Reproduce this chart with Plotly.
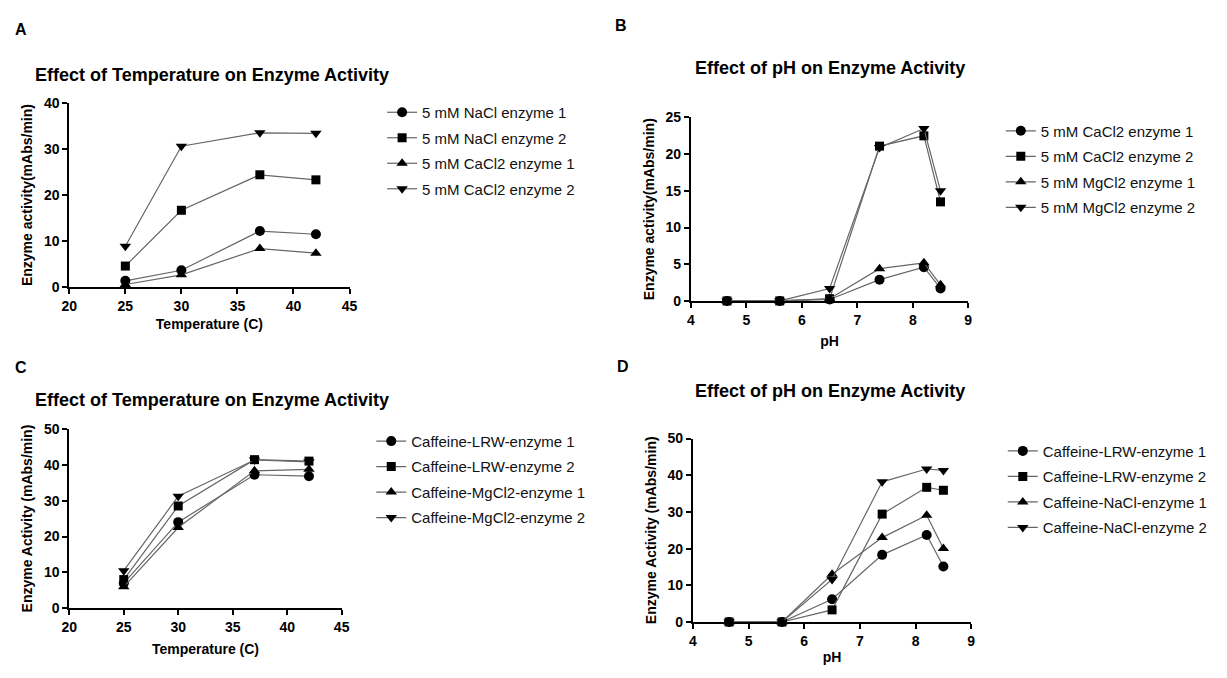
import plotly.graph_objects as go

# ---------------- data ----------------
temp = [25, 30, 37, 42]
ph = [4.65, 5.6, 6.5, 7.4, 8.2, 8.5]

a_names = ["5 mM NaCl enzyme 1", "5 mM NaCl enzyme 2", "5 mM CaCl2 enzyme 1", "5 mM CaCl2 enzyme 2"]
a_nacl_e1 = [1.4, 3.7, 12.2, 11.5]
a_nacl_e2 = [4.6, 16.7, 24.4, 23.3]
a_cacl2_e1 = [0.6, 2.7, 8.4, 7.4]
a_cacl2_e2 = [8.9, 30.6, 33.5, 33.4]

b_names = ["5 mM CaCl2 enzyme 1", "5 mM CaCl2 enzyme 2", "5 mM MgCl2 enzyme 1", "5 mM MgCl2 enzyme 2"]
b_cacl2_e1 = [0, 0, 0.2, 2.9, 4.6, 1.7]
b_cacl2_e2 = [0, 0, 0.3, 21.1, 22.5, 13.5]
b_mgcl2_e1 = [0, 0, 0.3, 4.4, 5.2, 2.2]
b_mgcl2_e2 = [0, 0, 1.7, 20.9, 23.5, 15.0]

c_names = ["Caffeine-LRW-enzyme 1", "Caffeine-LRW-enzyme 2", "Caffeine-MgCl2-enzyme 1", "Caffeine-MgCl2-enzyme 2"]
c_lrw_e1 = [7.0, 24.0, 37.2, 36.8]
c_lrw_e2 = [8.0, 28.5, 41.4, 41.0]
c_mgcl2_e1 = [6.0, 22.5, 38.3, 38.7]
c_mgcl2_e2 = [10.5, 31.2, 41.3, 40.8]

d_names = ["Caffeine-LRW-enzyme 1", "Caffeine-LRW-enzyme 2", "Caffeine-NaCl-enzyme 1", "Caffeine-NaCl-enzyme 2"]
d_lrw_e1 = [0, 0, 6.2, 18.3, 23.7, 15.1]
d_lrw_e2 = [0, 0, 3.3, 29.4, 36.7, 35.9]
d_nacl_e1 = [0, 0, 13.0, 23.0, 29.1, 20.0]
d_nacl_e2 = [0, 0, 11.6, 38.2, 41.7, 41.3]

symbols = ["circle", "square", "triangle-up", "triangle-down"]

# page is 1227x678; the default 8px body margin surrounds the figure
PAGE_MARGIN = 8
W, H = 1227 - 2 * PAGE_MARGIN, 678 - 2 * PAGE_MARGIN
FONT = "Liberation Sans, Arial, sans-serif"

def px_x(p):
    return (p - PAGE_MARGIN) / W

def px_y(p):
    return (H - (p - PAGE_MARGIN)) / H

fig = go.Figure()

panels = [
    dict(x=temp, series=[a_nacl_e1, a_nacl_e2, a_cacl2_e1, a_cacl2_e2], names=a_names,
         xa="x", ya="y", legend="legend"),
    dict(x=ph, series=[b_cacl2_e1, b_cacl2_e2, b_mgcl2_e1, b_mgcl2_e2], names=b_names,
         xa="x2", ya="y2", legend="legend2"),
    dict(x=temp, series=[c_lrw_e1, c_lrw_e2, c_mgcl2_e1, c_mgcl2_e2], names=c_names,
         xa="x3", ya="y3", legend="legend3"),
    dict(x=ph, series=[d_lrw_e1, d_lrw_e2, d_nacl_e1, d_nacl_e2], names=d_names,
         xa="x4", ya="y4", legend="legend4"),
]

for pi, p in enumerate(panels):
    for i, (vals, name) in enumerate(zip(p["series"], p["names"])):
        fig.add_trace(go.Scatter(
            x=p["x"], y=vals, name=name, mode="lines+markers",
            xaxis=p["xa"], yaxis=p["ya"], legend=p["legend"],
            legendgroup=f"g{pi}{i}",
            line=dict(color="#666666", width=1.2),
            marker=dict(symbol=symbols[i], color="black", size=10 if i != 1 else 9),
            cliponaxis=False,
        ))

axis_common = dict(
    showline=True, linecolor="black", linewidth=2,
    ticks="outside", ticklen=5, tickwidth=2, tickcolor="black",
    showgrid=False, zeroline=False,
    tickfont=dict(family=FONT, size=14, color="black", weight="bold"),
    title_font=dict(family=FONT, size=14, color="black", weight="bold"),
    fixedrange=True,
)

def xaxis(dom, rng, dtick, title, anchor, standoff):
    return dict(axis_common, domain=[px_x(dom[0]), px_x(dom[1])], range=rng, dtick=dtick,
                tick0=rng[0], anchor=anchor, title=dict(text=title, standoff=standoff))

def yaxis(dom, rng, dtick, title, anchor, standoff):
    return dict(axis_common, domain=[px_y(dom[1]), px_y(dom[0])], range=rng, dtick=dtick,
                tick0=0, anchor=anchor, title=dict(text=title, standoff=standoff))

fig.update_layout(
    width=W, height=H,
    margin=dict(l=0, r=0, t=0, b=0),
    paper_bgcolor="white", plot_bgcolor="white",
    font=dict(family=FONT, color="black"),
    xaxis=xaxis((62, 346), [20, 45], 5, "Temperature (C)", "y", 6),
    yaxis=yaxis((97, 286), [0, 40], 10, "Enzyme activity(mAbs/min)", "x", 8),
    xaxis2=xaxis((692, 973), [4, 9], 1, "pH", "y2", 9),
    yaxis2=yaxis((112, 300), [0, 25], 5, "Enzyme activity(mAbs/min)", "x2", 8),
    xaxis3=xaxis((62, 338), [20, 45], 5, "Temperature (C)", "y3", 10),
    yaxis3=yaxis((431, 615), [0, 50], 10, "Enzyme Activity (mAbs/min)", "x3", 8),
    xaxis4=xaxis((694, 976), [4, 9], 1, "pH", "y4", 4),
    yaxis4=yaxis((441, 629), [0, 50], 10, "Enzyme Activity (mAbs/min)", "x4", 8),
    showlegend=True,
)

leg_common = dict(
    xanchor="left", yanchor="top", bgcolor="rgba(0,0,0,0)", borderwidth=0,
    font=dict(family=FONT, size=15, color="#111"),
    traceorder="grouped", tracegroupgap=3,
)
fig.update_layout(
    legend=dict(leg_common, x=px_x(379), y=px_y(90)),
    legend2=dict(leg_common, x=px_x(1006), y=px_y(109)),
    legend3=dict(leg_common, x=px_x(368), y=px_y(427)),
    legend4=dict(leg_common, x=px_x(1008), y=px_y(437)),
)

ann = []
letters = [("A", 13, 22), ("B", 621, 18), ("C", 13, 368), ("D", 623, 367)]
for t, x, y in letters:
    ann.append(dict(text=t, x=px_x(x), y=px_y(y), xref="paper", yref="paper",
                    xanchor="center", yanchor="middle", showarrow=False,
                    font=dict(family=FONT, size=16, color="black", weight="bold")))
titles = [
    ("Effect of Temperature on Enzyme Activity", 25, 68, "left"),
    ("Effect of pH on Enzyme Activity", 833, 61, "center"),
    ("Effect of Temperature on Enzyme Activity", 25, 402, "left"),
    ("Effect of pH on Enzyme Activity", 833, 392, "center"),
]
for t, x, y, anc in titles:
    ann.append(dict(text=t, x=px_x(x), y=px_y(y), xref="paper", yref="paper",
                    xanchor=anc, yanchor="middle", showarrow=False,
                    font=dict(family=FONT, size=18, color="black", weight="bold")))
fig.update_layout(annotations=ann)

fig.write_html("out.html", config={"displayModeBar": False})
